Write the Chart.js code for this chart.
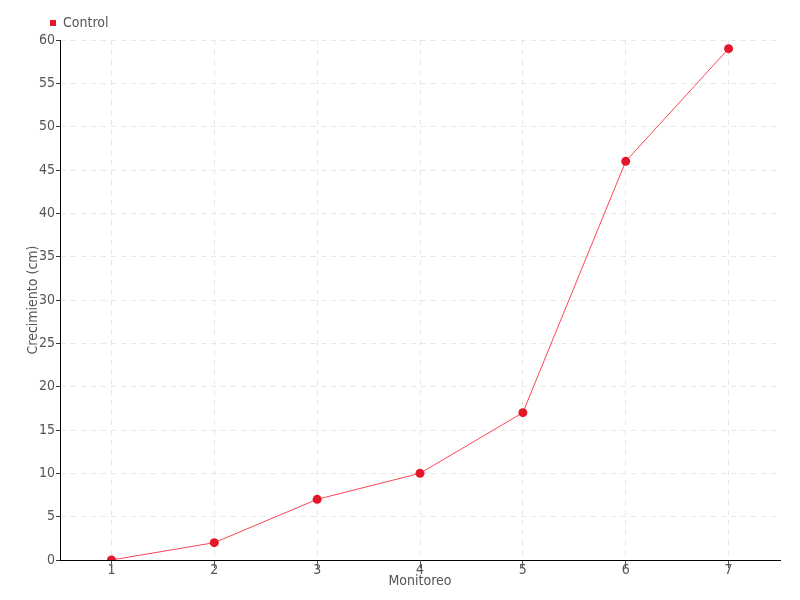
<!DOCTYPE html>
<html>
<head>
<meta charset="utf-8">
<script src="https://cdn.jsdelivr.net/npm/chart.js@4"></script>
<style>
  html, body { margin: 0; padding: 0; background: #fff; }
  #wrap { width: 800px; height: 600px; }
</style>
</head>
<body>
<div id="wrap"><canvas id="chartCanvas" width="800" height="600"></canvas></div>
<script>
// Monitoring rounds on the x axis
const categories = ["1", "2", "3", "4", "5", "6", "7"];

// Growth of the control group (cm)
const controlValues = [0, 2, 7, 10, 17, 46, 59];

// Y axis ticks
const yTicks = [0, 5, 10, 15, 20, 25, 30, 35, 40, 45, 50, 55, 60];

const fontFamily = "'DejaVu Sans Condensed', 'Liberation Sans Narrow', 'Roboto', sans-serif";

// Shift the legend to the right so it sits over the y axis
const legendShift = {
  id: "legendShift",
  afterLayout: function (chart) {
    if (chart.legend) {
      chart.legend.left += 22;
      chart.legend.right += 22;
    }
  },
};

const ctx = document.getElementById("chartCanvas").getContext("2d");

const myChart = new Chart(ctx, {
  type: "line",
  data: {
    labels: categories,
    datasets: [
      {
        label: "Control",
        data: controlValues,
        borderColor: "#ff4556",
        borderWidth: 1,
        backgroundColor: "#e3182a",
        pointBackgroundColor: "#e3182a",
        pointBorderColor: "#e3182a",
        pointRadius: 4.5,
        pointBorderWidth: 0,
        pointStyle: "circle",
        tension: 0,
      },
    ],
  },
  plugins: [legendShift],
  options: {
    responsive: false,
    animation: false,
    layout: {
      padding: { left: 20, right: 20, top: 8, bottom: 0 },
    },
    scales: {
      x: {
        type: "category",
        offset: true,
        grid: {
          color: "#e6e6e6",
          offset: false,
          tickColor: "#555",
          tickLength: 8,
          tickBorderDash: [],
        },
        border: { display: true, color: "#000", width: 1, dash: [5, 5] },
        ticks: {
          color: "#555",
          font: { family: fontFamily, size: 14 },
          padding: -6,
        },
        title: {
          display: true,
          text: "Monitoreo",
          color: "#555",
          font: { family: fontFamily, size: 14 },
          padding: { top: -4, bottom: 10 },
        },
        afterFit: function (scale) {
          scale.height = 40;
        },
      },
      y: {
        min: 0,
        max: 60,
        afterBuildTicks: function (scale) {
          scale.ticks = yTicks.map((v) => ({ value: v }));
        },
        grid: {
          color: "#e6e6e6",
          tickColor: "#333",
          tickLength: 4,
          tickBorderDash: [],
        },
        border: { display: true, color: "#000", width: 1, dash: [5, 5] },
        ticks: {
          color: "#555",
          font: { family: fontFamily, size: 14 },
          padding: 1,
        },
        title: {
          display: true,
          text: "Crecimiento (cm)",
          color: "#555",
          font: { family: fontFamily, size: 14 },
          padding: { top: 5, bottom: 4 },
        },
        afterFit: function (scale) {
          scale.width = 40;
        },
      },
    },
    plugins: {
      legend: {
        display: true,
        position: "top",
        align: "start",
        labels: {
          usePointStyle: true,
          pointStyle: "rect",
          boxWidth: 6,
          boxHeight: 6,
          color: "#555",
          padding: 8,
          font: { family: fontFamily, size: 14 },
        },
      },
      tooltip: { enabled: false },
    },
  },
});
</script>
</body>
</html>
